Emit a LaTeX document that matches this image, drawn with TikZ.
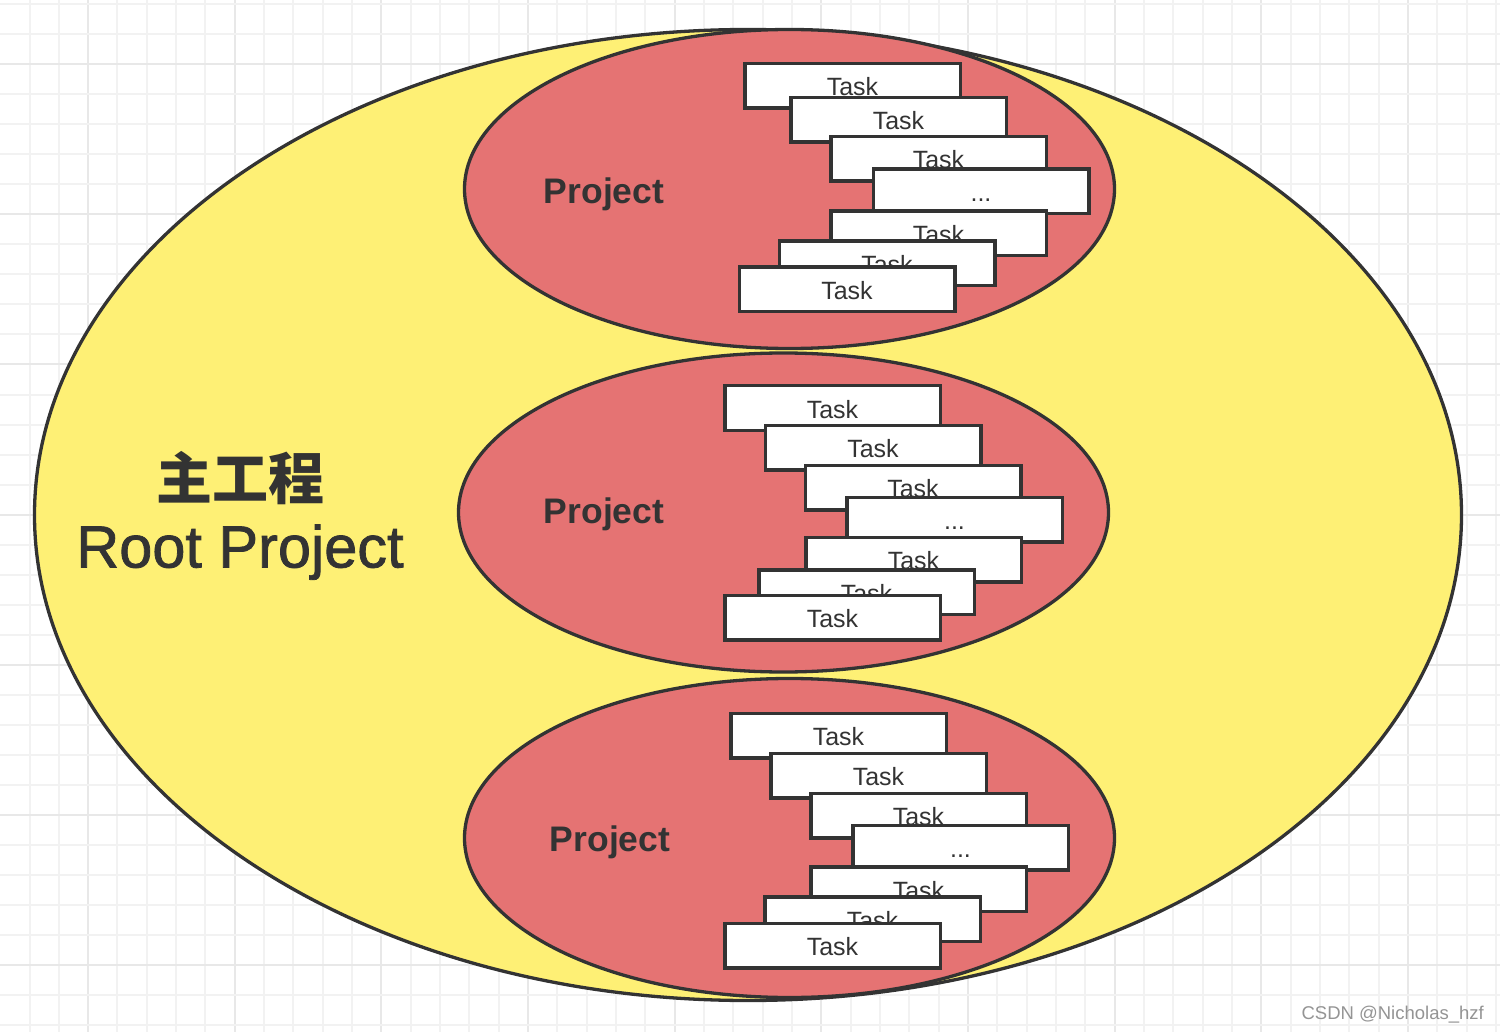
\documentclass[tikz,border=0pt]{standalone}
\usepackage{fontspec}
\setmainfont{Liberation Sans}
\newfontfamily\cjkfont{Noto Sans CJK SC}
\newfontfamily\medfont{Liberation Sans}[BoldFont={Liberation Sans}, BoldFeatures={FakeBold=1.3}]
\usetikzlibrary{shapes.geometric}
\definecolor{ybg}{HTML}{FEF075}
\definecolor{rbg}{HTML}{E57373}
\definecolor{outl}{HTML}{333333}
\definecolor{txt}{HTML}{333333}
\definecolor{gminor}{HTML}{F2F2F2}
\definecolor{gmajor}{HTML}{E8E8E8}
\tikzset{
  rootell/.style={ellipse, draw=outl, fill=ybg, line width=3.3pt, inner sep=0pt,
    minimum width=1427pt, minimum height=971pt},
  projell/.style={ellipse, draw=outl, fill=rbg, line width=3.3pt, inner sep=0pt,
    minimum width=650pt, minimum height=319pt},
  taskbox/.style={rectangle, draw=outl, fill=white, line width=3.5pt, inner sep=0pt,
    minimum width=215.5pt, minimum height=44.5pt, text=txt,
    font=\fontsize{25}{25}\selectfont, text height=20pt, text depth=0pt},
  projlabel/.style={anchor=base, text=txt, font=\fontsize{35.5}{35.5}\selectfont\bfseries, inner sep=0pt},
  gridline/.style={line width=2pt}
}
\begin{document}
\begin{tikzpicture}[x=1pt,y=-1pt]
\useasboundingbox (0,0) rectangle (1500,1032);
\fill[white] (0,0) rectangle (1500,1032);
% grid
\foreach \k in {0,...,51} {
  \pgfmathsetmacro{\gx}{29.5+29.33*\k}
  \pgfmathtruncatemacro{\m}{mod(\k,5)}
  \ifnum\m=2 \def\gc{gmajor}\else\def\gc{gminor}\fi
  \draw[gridline, draw=\gc] (\gx,0) -- (\gx,1032);
}
\foreach \k in {0,...,34} {
  \pgfmathsetmacro{\gy}{4.5+30*\k}
  \pgfmathtruncatemacro{\m}{mod(\k,5)}
  \ifnum\m=2 \def\gc{gmajor}\else\def\gc{gminor}\fi
  \draw[gridline, draw=\gc] (0,\gy) -- (1500,\gy);
}
% root ellipse
\node[rootell] (root) at (748,515) {};
\node[text=txt, font=\cjkfont\bfseries\fontsize{56}{56}\selectfont, inner sep=0pt] (rootcn) at (240,478) {主工程};
\node[anchor=base, text=txt, font=\medfont\bfseries\fontsize{59.5}{59.5}\selectfont, inner sep=0pt] (rooten) at (240,567.5) {Root Project};
% project ellipses
\node[projell] (p1) at (789.5,189) {};
\node[projell] (p2) at (783.5,512.5) {};
\node[projell] (p3) at (789.5,838) {};
\node[projlabel] (p1l) at (604,203.3) {Project};
\node[projlabel] (p2l) at (604,523.3) {Project};
\node[projlabel] (p3l) at (610,851.3) {Project};
% tasks of project 1
\node[taskbox] (t1a) at (852.5,86) {Task};
\node[taskbox] (t1b) at (898.5,120) {Task};
\node[taskbox] (t1c) at (938.5,159) {Task};
\node[taskbox] (t1d) at (981,191.5) {...};
\node[taskbox] (t1e) at (938.5,233.5) {Task};
\node[taskbox] (t1f) at (887,263.5) {Task};
\node[taskbox] (t1g) at (847,289.5) {Task};
% tasks of project 2
\node[taskbox] (t2a) at (832.5,408) {Task};
\node[taskbox] (t2b) at (873,447.5) {Task};
\node[taskbox] (t2c) at (913,487.5) {Task};
\node[taskbox] (t2d) at (954.5,519.5) {...};
\node[taskbox] (t2e) at (913.5,559.5) {Task};
\node[taskbox] (t2f) at (866.5,592) {Task};
\node[taskbox] (t2g) at (832.5,617.5) {Task};
% tasks of project 3
\node[taskbox] (t3a) at (838.5,735.5) {Task};
\node[taskbox] (t3b) at (878.5,775.5) {Task};
\node[taskbox] (t3c) at (918.5,815.5) {Task};
\node[taskbox] (t3d) at (960.5,847.5) {...};
\node[taskbox] (t3e) at (918.5,889) {Task};
\node[taskbox] (t3f) at (872.5,919) {Task};
\node[taskbox] (t3g) at (832.5,945.5) {Task};
% watermark
\node[anchor=base east, text=black!42, font=\fontsize{18.5}{18.5}\selectfont, inner sep=0pt] (wm) at (1484,1019.5) {CSDN @Nicholas\_hzf};
\end{tikzpicture}
\end{document}
